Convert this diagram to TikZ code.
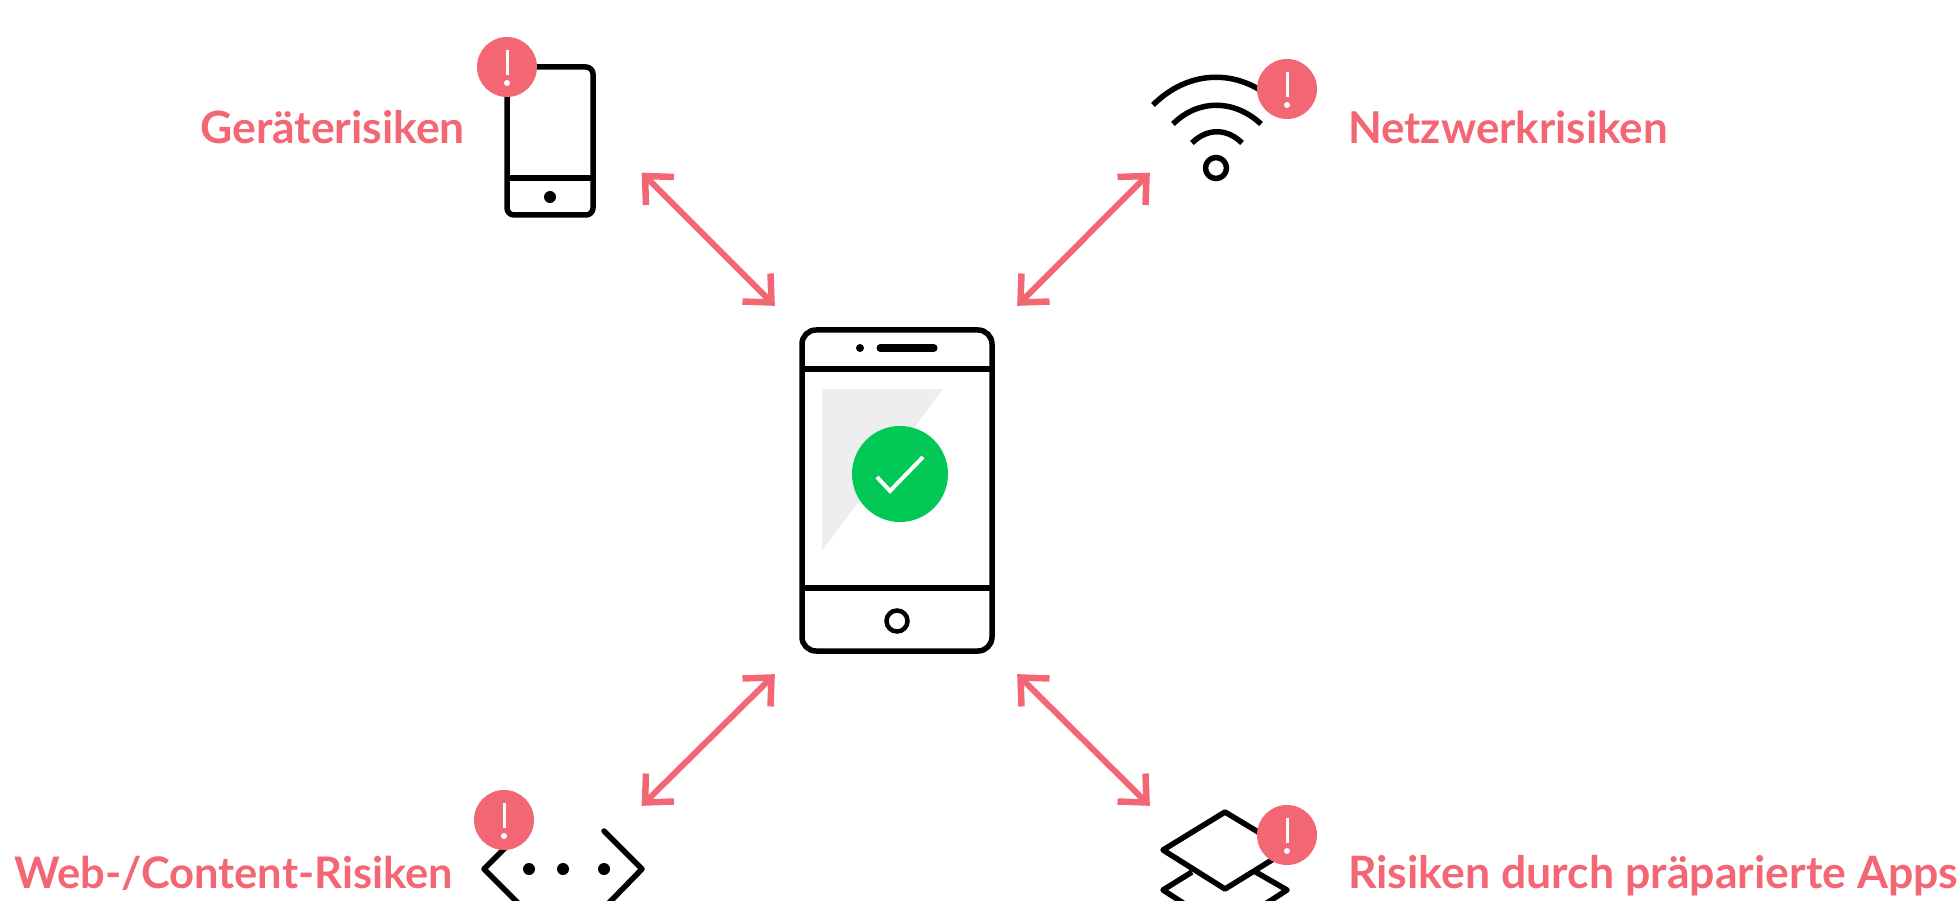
\documentclass[tikz,border=0pt]{standalone}
\usepackage{fontspec}
\setmainfont{Lato}
\usetikzlibrary{calc}
\definecolor{risk}{HTML}{F36673}
\definecolor{okgreen}{HTML}{02C955}
\definecolor{pane}{HTML}{EEEEEE}
\tikzset{
  icon/.style={draw=black,line width=5.5pt,line join=round,fill=none},
  iconb/.style={draw=black,line width=5.5pt,line join=miter,line cap=butt},
  dotb/.style={circle,fill=black,draw=none,inner sep=0pt,minimum size=#1},
  badge/.style={circle,fill=risk,draw=none,inner sep=0pt,minimum size=60pt},
  bang/.style={draw=white,line width=3pt},
  label/.style={text=risk,inner sep=0pt,font=\fontsize{#1}{#1}\selectfont\bfseries},
  link/.style={draw=risk,line width=6pt},
  linktip/.style={draw=risk,line width=6.5pt,line join=miter,miter limit=10},
}
\newcommand{\riskbadge}[3]{%
  \node[badge] (#1) at (#2,#3) {};
  \draw[bang] ([yshift=17pt]#1.center) -- ([yshift=-8pt]#1.center);
  \fill[white] ([yshift=-16pt]#1.center) circle (3pt);
}
% tip name, direction signs along x and y (towards the shaft)
\newcommand{\linkhead}[3]{%
  \draw[linktip] ($(#1)+(#2*29,#3*1)$) -- (#1) -- ($(#1)+(#2*1,#3*29)$);
}
\begin{document}
\begin{tikzpicture}[x=1pt,y=-1pt]
\useasboundingbox (0,0) rectangle (1960,901);
\clip (0,0) rectangle (1960,901);
% central phone
\fill[pane] (822,389) -- (943,389) -- (822,551) -- cycle;
\draw[icon] (802,330) [rounded corners=14pt] rectangle (992,651);
\draw[icon] (802,369) -- (992,369);
\draw[icon] (802,588) -- (992,588);
\node[dotb=8pt] (camera) at (860,348) {};
\draw[black,line width=7pt,line cap=round] (880,348) -- (934,348);
\node[circle,draw=black,line width=4.5pt,inner sep=0pt,minimum size=21pt] (home) at (897,621) {};
\node[circle,fill=okgreen,inner sep=0pt,minimum size=96pt] (ok) at (900,474) {};
\draw[white,line width=4pt] (877,477) -- (890,491) -- (923,457);
% device
\draw[icon] (507,67) [rounded corners=7pt] rectangle (593,215);
\draw[icon] (507,178) -- (593,178);
\node[dotb=12pt] (devdot) at (550,197) {};
\riskbadge{b1}{507}{67}
% wifi
\draw[iconb] (1153,105) .. controls (1190,68) and (1242,68) .. (1279,105);
\draw[iconb] (1173,124) .. controls (1198,99) and (1234,99) .. (1261,124);
\draw[iconb] (1192,143) .. controls (1207,128) and (1227,128) .. (1242,143);
\node[circle,draw=black,line width=5.5pt,inner sep=0pt,minimum size=21pt] (wifidot) at (1216,168) {};
\riskbadge{b2}{1287}{89}
% code
\draw[icon,line cap=round] (523,830) -- (484,869) -- (523,908);
\draw[icon,line cap=round] (604,831) -- (642,869) -- (604,908);
\node[dotb=12pt] (d1) at (529,869) {};
\node[dotb=12pt] (d2) at (563,869) {};
\node[dotb=12pt] (d3) at (604,869) {};
\riskbadge{b3}{504}{820}
% layers
\draw[icon] (1225,812) -- (1163,850) -- (1225,889) -- (1288,850) -- cycle;
\draw[icon] (1192,872) -- (1163,890) -- (1225,930) -- (1287,890) -- (1254,871);
\riskbadge{b4}{1287}{835}
% labels
\node[label=44.5,anchor=base west] (t1) at (200,144) {Geräterisiken};
\node[label=43.9,anchor=base west] (t2) at (1348,144) {Netzwerkrisiken};
\node[label=43.5,anchor=base west] (t3) at (14,888) {Web-/Content-Risiken};
\node[label=44.6,anchor=base west] (t4) at (1348,888) {Risiken durch präparierte Apps};
% connectors
\coordinate (a1) at (645,176); \coordinate (a2) at (771.5,302.5);
\coordinate (a3) at (1146.5,176); \coordinate (a4) at (1020.5,302.5);
\coordinate (a5) at (771.5,677.5); \coordinate (a6) at (645,802.5);
\coordinate (a7) at (1020.5,677.5); \coordinate (a8) at (1146.5,802.5);
\draw[link] (a1) -- (a2);
\draw[link] (a3) -- (a4);
\draw[link] (a5) -- (a6);
\draw[link] (a7) -- (a8);
\linkhead{a1}{1}{1}
\linkhead{a2}{-1}{-1}
\linkhead{a3}{-1}{1}
\linkhead{a4}{1}{-1}
\linkhead{a5}{-1}{1}
\linkhead{a6}{1}{-1}
\linkhead{a7}{1}{1}
\linkhead{a8}{-1}{-1}
\end{tikzpicture}
\end{document}
